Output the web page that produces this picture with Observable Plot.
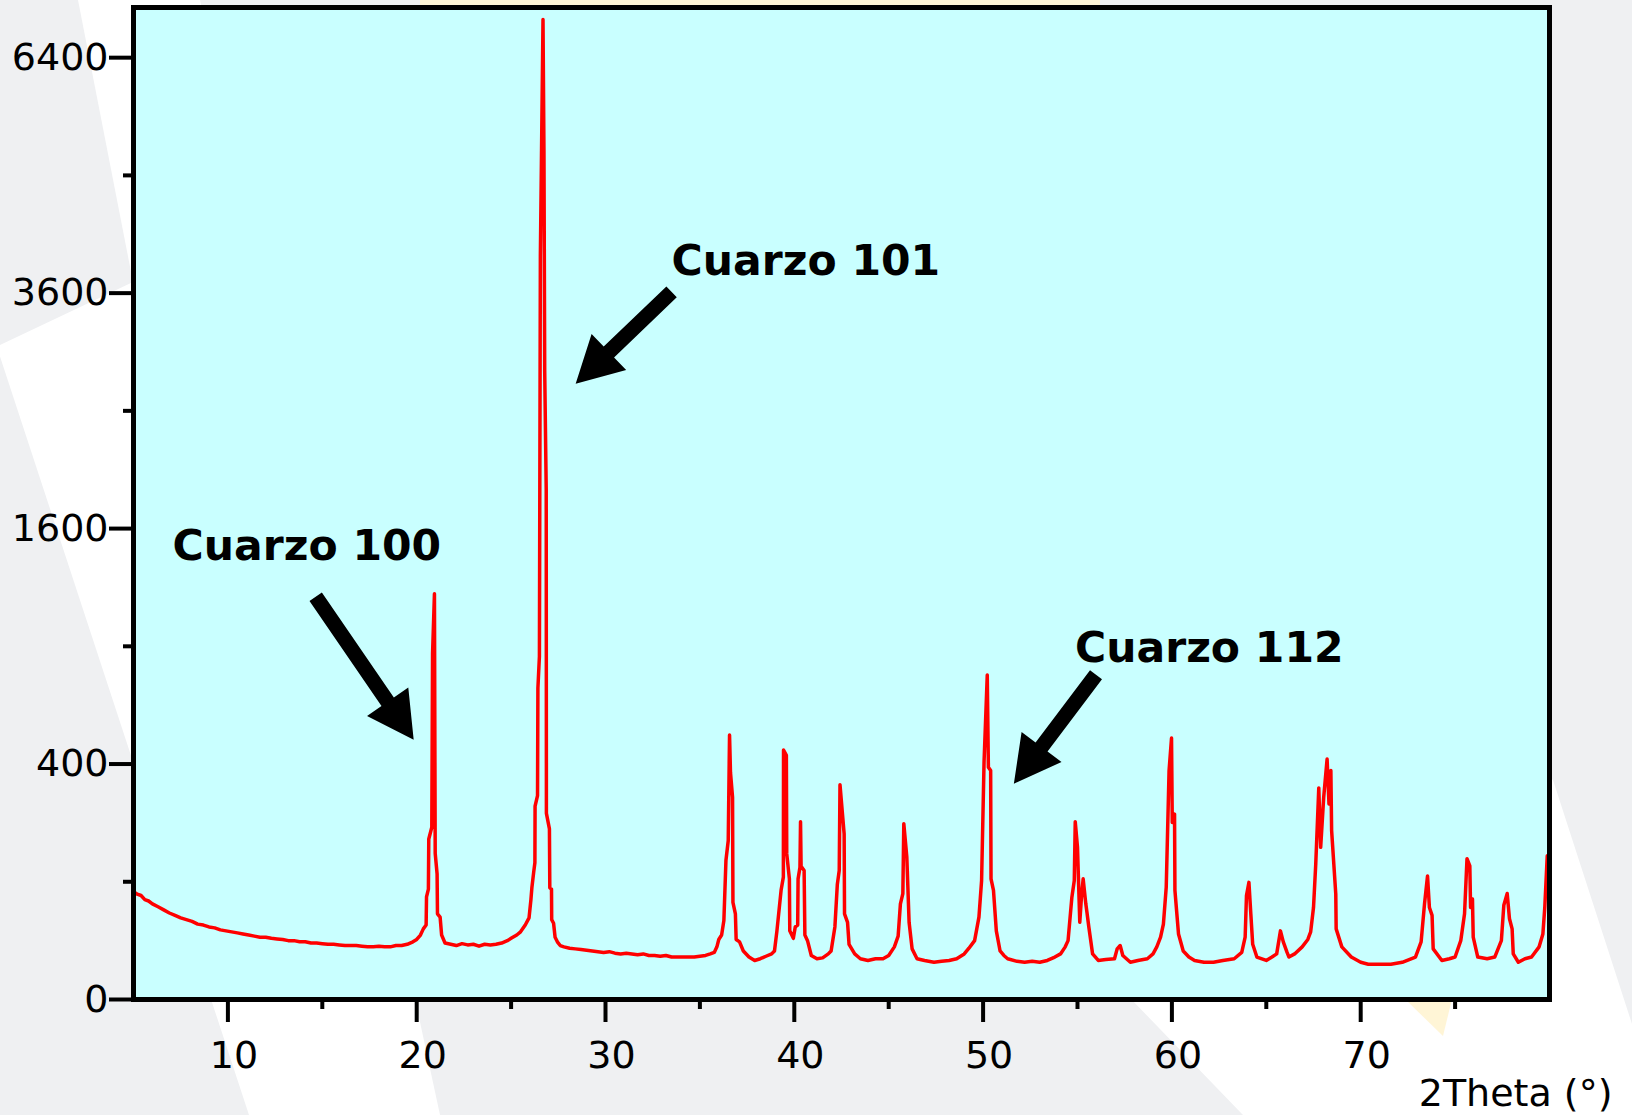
<!DOCTYPE html>
<html><head><meta charset="utf-8">
<script src="https://cdn.jsdelivr.net/npm/d3@7"></script>
<script src="https://cdn.jsdelivr.net/npm/@observablehq/plot@0.6"></script>
<style>
html,body{margin:0;padding:0;background:#eff0f2;}
#wrap{position:relative;width:1632px;height:1115px;overflow:hidden;}
#bg{position:absolute;left:0;top:0;}
#chart{position:absolute;left:0;top:0;}
</style></head><body>
<div id="wrap"><svg id="bg" width="1632" height="1115"></svg><div id="chart"></div></div>
<script>
// ---- data ----
const twoTheta = [
 5.0,5.2,5.4,5.6,5.8,6.0,6.3,6.6,6.9,7.2,7.5,7.8,8.1,8.4,8.7,9.0,9.3,9.6,9.9,10.2,10.5,10.8,11.1,11.4,11.7,12.0,12.3,12.6,12.9,13.2,13.5,13.8,14.1,14.4,14.7,15.0,15.3,15.6,15.9,16.2,16.5,16.8,17.1,17.4,17.7,18.0,18.3,18.6,18.9,19.2,19.5,19.8,
 20.0,20.2,20.35,20.5,20.52,20.62,20.64,20.8,20.84,20.94,20.98,21.08,21.1,21.24,21.32,21.5,21.8,22.1,22.4,22.7,23.0,23.3,23.6,23.9,24.2,24.5,24.8,
 25.0,25.3,25.5,25.75,25.95,26.05,26.1,26.2,26.26,26.27,26.4,26.42,26.5,26.55,26.69,26.74,26.78,26.86,26.87,27.03,27.05,27.14,27.15,27.25,27.33,27.45,27.6,27.8,
 28.1,28.4,28.7,29.0,29.3,29.6,29.9,30.2,30.5,30.8,31.1,31.4,31.7,32.0,32.3,32.6,32.9,33.2,33.5,33.8,34.1,34.4,34.7,35.0,35.3,35.55,35.76,35.9,
 36.0,36.15,36.27,36.38,36.5,36.57,36.62,36.73,36.75,36.88,36.92,37.1,37.3,37.6,37.9,38.2,38.5,38.8,38.95,39.08,39.3,39.42,39.43,39.58,39.6,39.74,39.76,39.95,
 40.05,40.18,40.2,40.3,40.33,40.36,40.52,40.56,40.7,40.9,41.2,41.5,41.8,41.95,42.15,42.28,42.38,42.42,42.64,42.66,42.82,42.9,43.2,43.5,43.9,44.3,44.7,
 45.0,45.3,45.5,45.62,45.75,45.8,45.96,46.08,46.24,46.5,46.9,47.4,47.8,48.2,48.6,49.0,49.25,49.55,49.78,49.92,
 50.05,50.22,50.28,50.4,50.42,50.55,50.7,50.9,51.1,51.3,51.8,52.2,52.6,53.0,53.4,53.8,54.1,54.35,54.5,54.7,54.83,54.88,
 55.0,55.12,55.22,55.3,55.44,55.5,55.6,55.8,56.1,56.5,56.96,57.1,57.26,57.4,57.8,58.2,58.7,59.0,59.2,59.4,59.55,59.7,59.85,59.98,
 60.02,60.14,60.16,60.35,60.6,60.9,61.2,61.7,62.2,62.7,63.3,63.7,63.88,63.95,64.08,64.18,64.28,64.5,
 65.0,65.3,65.55,65.75,65.9,66.1,66.2,66.5,66.9,67.2,67.35,67.5,67.62,67.78,67.88,68.04,68.22,68.32,68.42,68.46,68.68,68.7,69.0,69.5,
 70.0,70.4,71.0,71.6,72.2,72.9,73.2,73.38,73.54,73.64,73.78,73.84,74.3,74.7,
 75.0,75.3,75.5,75.63,75.78,75.82,75.92,75.96,76.2,76.7,77.1,77.45,77.58,77.76,77.88,78.02,78.08,78.35,78.7,79.05,79.45,79.65,79.75,79.88
];
const counts = [
 84,80,78,72,70,66,62,58,54,51,48,46,44,41,40,38,37,35,34,33,32,31,30,29,28,28,27,26.5,26,25,25,24,24,23,23,22.5,22,22,21.5,21,21,21,20.5,20,20,20.5,20,20,21,21,22,24,
 26,30,36,40,76,88,186,214,863,1188,154,114,53,49,30,23,22,21,22.5,21.5,22,20.5,22,21.5,22,23,25,
 27,30,33,40,48,72,90,118,135,270,300,700,850,4000,6930,5200,2850,1880,250,210,90,88,46,42,28,24,21,20,
 19,18.5,18,17.5,17,16.5,16,16.5,15.5,15,15.5,15,14.5,15,14,14,13.5,14,13,13,13,13,13,13.5,14,15,16,20,
 26,30,45,140,182,505,372,295,68,53,26,24,17,13,11,12,13.5,15,17,34,86,108,449,430,153,105,34,27,
 38,40,105,126,228,128,120,30,25,14,12,12.5,15,17,38,96,120,333,198,53,43,22,15,12,11,12,12,
 14,20,29,66,81,223,146,43,18.5,12,11,10,10.5,11,12,15,19,25,49,102,
 406,760,389,378,105,86,34,17,14,12,10.5,10,10.5,10,11,13,15,20,25,75,102,228,
 167,43,80,105,66,55,38,15,11,11.5,12,18.5,21,14,10,11,12,15,20,28,41,91,378,493,
 226,248,86,31,17,13,11,10,10,11,12,16,28,78,99,53,22,13,
 11,13,15,34,24,16,13,15,20,26,33,61,133,323,167,295,417,276,378,206,80,36,20,13,
 10,9,9,9,10,13,24,66,110,61,51,18.5,11,12,
 13,25,53,143,129,61,73,28,13,12,13,25,64,81,47,36,15,10,12,13,20,31,61,149
];
const yMajorTicks = [0, 400, 1600, 3600, 6400];
const yMinorTicks = [100, 900, 2500, 4900];
const xMajorTicks = [10, 20, 30, 40, 50, 60, 70];
const xMinorTicks = [15, 25, 35, 45, 55, 65, 75];
const xDomain = [5, 80];
const yDomain = [0, 7100];
const xTitle = "2Theta (°)";
const peakLabels = ["Cuarzo 100", "Cuarzo 101", "Cuarzo 112"];
const peakLabelX = [7.07, 33.5, 54.87];
const peakLabelY = [1479, 3926, 888];
const arrowTailX = [14.65, 33.5, 55.98];
const arrowTailY = [1170, 3612, 761];
const arrowTipX = [19.84, 28.42, 51.63];
const arrowTipY = [487, 2735, 336];

// ---- layout ----
const W = 1632, H = 1115, mL = 133, mR = 83, mT = 7, mB = 116;

// decorative slide background
const bgShapes = [
  {fill: "#ffffff", pts: [[-117,0],[200,0],[440,1115],[249,1115]]},
  {fill: "#eff0f2", pts: [[0,0],[78,0],[133,282],[0,345]]},
  {fill: "#ffffff", pts: [[1131,999],[1549,999],[1549,777],[1553,780],[1632,1024],[1632,1115],[1243,1115]]},
  {fill: "#fff5d6", pts: [[420,0],[1100,0],[1100,8],[420,8]]},
  {fill: "#fff5d6", pts: [[1405,999],[1452,999],[1443,1036]]}
];
d3.select("#bg").selectAll("polygon").data(bgShapes).join("polygon")
  .attr("points", d => d.pts.map(p => p.join(",")).join(" "))
  .attr("fill", d => d.fill);

const rows = twoTheta.map((t, i) => ({t, c: counts[i]}));

// arrow polygons computed in screen space from tail/tip, then inverted to data space
const xs = Plot.scale({x: {domain: xDomain, range: [mL, W - mR]}});
const ys = Plot.scale({y: {type: "sqrt", domain: yDomain, range: [H - mB, mT]}});
const shaftHalf = 7.5, headLen = 46, headHalf = 25;
const arrowPts = [];
peakLabels.forEach((lab, i) => {
  const T = [xs.apply(arrowTailX[i]), ys.apply(arrowTailY[i])];
  const P = [xs.apply(arrowTipX[i]), ys.apply(arrowTipY[i])];
  const dx = P[0] - T[0], dy = P[1] - T[1], L = Math.hypot(dx, dy);
  const u = [dx / L, dy / L], n = [-u[1], u[0]];
  const C = [P[0] - headLen * u[0], P[1] - headLen * u[1]];
  const poly = [
    [T[0] + shaftHalf * n[0], T[1] + shaftHalf * n[1]],
    [C[0] + shaftHalf * n[0], C[1] + shaftHalf * n[1]],
    [C[0] + headHalf * n[0], C[1] + headHalf * n[1]],
    P,
    [C[0] - headHalf * n[0], C[1] - headHalf * n[1]],
    [C[0] - shaftHalf * n[0], C[1] - shaftHalf * n[1]],
    [T[0] - shaftHalf * n[0], T[1] - shaftHalf * n[1]]
  ];
  poly.forEach(p => arrowPts.push({id: i, x: xs.invert(p[0]), y: ys.invert(p[1])}));
});

const chart = Plot.plot({
  width: W, height: H,
  marginLeft: mL, marginRight: mR, marginTop: mT, marginBottom: mB,
  style: {fontFamily: "DejaVu Sans", background: "transparent", color: "black", overflow: "visible"},
  x: {domain: xDomain, label: null},
  y: {type: "sqrt", domain: yDomain, label: null},
  marks: [
    Plot.frame({fill: "#c9ffff"}),
    Plot.line(rows, {x: "t", y: "c", stroke: "#ff0000", strokeWidth: 3.5, curve: "linear"}),
    Plot.line(arrowPts, {x: "x", y: "y", z: "id", fill: "black", stroke: "none", curve: "linear-closed"}),
    Plot.text(peakLabels, {x: (d, i) => peakLabelX[i], y: (d, i) => peakLabelY[i], text: d => d,
      textAnchor: "start", lineAnchor: "middle", fontSize: 42.5, fontWeight: "bold", fill: "black"}),
    Plot.frame({stroke: "black", strokeWidth: 5}),
    Plot.axisY(yMajorTicks, {tickSize: 24, tickPadding: 1, strokeWidth: 4, fontSize: 38,
      tickFormat: d => String(d), label: null}),
    Plot.axisY(yMinorTicks, {tickSize: 10, strokeWidth: 4, tickFormat: () => "", label: null}),
    Plot.axisX(xMajorTicks, {tickSize: 23, strokeWidth: 4, tickFormat: () => "", label: null}),
    Plot.axisX(xMinorTicks, {tickSize: 10, strokeWidth: 4, tickFormat: () => "", label: null}),
    Plot.text(xMajorTicks, {x: d => d, text: d => String(d), frameAnchor: "bottom", lineAnchor: "top",
      dy: 42, dx: 6, fontSize: 38, fill: "black"}),
    Plot.text([xTitle], {text: d => d, frameAnchor: "bottom-right", textAnchor: "end", lineAnchor: "middle",
      dx: 63, dy: 94, fontSize: 38, fill: "black"})
  ]
});
document.getElementById("chart").appendChild(chart);
</script>
</body></html>
